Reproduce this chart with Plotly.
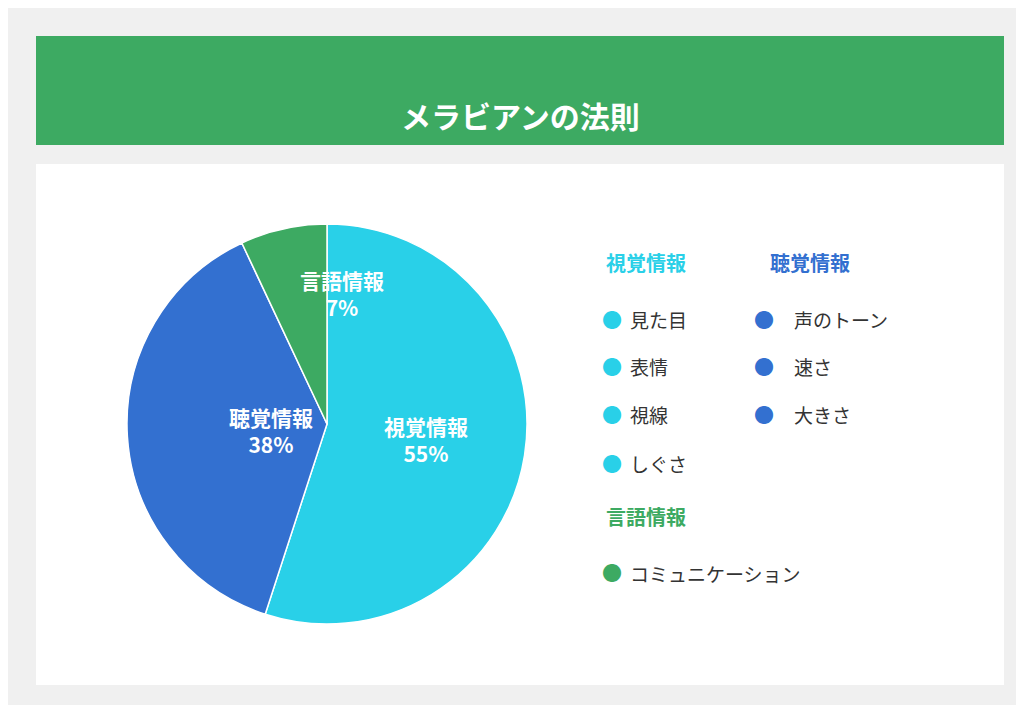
import math
import plotly.graph_objects as go

W, H = 1024, 705
FONT = "Noto Sans CJK JP"

title = "メラビアンの法則"
categories = ["視覚情報", "聴覚情報", "言語情報"]
values = [55, 38, 7]
colors = ["#29D0E8", "#3370D0", "#3DAA62"]
legend_items = {
    "視覚情報": ["見た目", "表情", "視線", "しぐさ"],
    "聴覚情報": ["声のトーン", "速さ", "大きさ"],
    "言語情報": ["コミュニケーション"],
}


def px(x):
    return x / W


def py(y):
    return 1 - y / H


cx, cy, R = 319, 416, 200

fig = go.Figure(go.Pie(
    labels=categories, values=values, sort=False, direction="clockwise",
    rotation=0, marker=dict(colors=colors, line=dict(color="white", width=1.5)),
    textinfo="none", hoverinfo="label+percent", showlegend=False,
    domain=dict(x=[px(cx - R), px(cx + R)], y=[py(cy + R), py(cy - R)]),
))

shapes = [
    dict(type="path", xref="paper", yref="paper", layer="below",
         path="M {},{} L {},{} L {},{} L {},{} Z".format(px(28), py(28), px(996), py(28), px(996), py(137), px(28), py(137)),
         fillcolor="#3DAA62", line=dict(width=0)),
    dict(type="rect", xref="paper", yref="paper", layer="below",
         x0=px(28), x1=px(996), y0=py(677), y1=py(156),
         fillcolor="white", line=dict(width=0)),
]

annotations = [dict(text="<b>" + title + "</b>", x=0.5, y=py(83), xref="paper", yref="paper",
                    showarrow=False, font=dict(family=FONT, size=30, color="white"))]

# slice labels at mid-angle of each slice
total = sum(values)
cum = 0
for cat, v in zip(categories, values):
    mid = (cum + v / 2) / total * 2 * math.pi
    cum += v
    r = 0.5 * R if v > 20 else 0.67 * R
    lx = cx + r * math.sin(mid)
    ly = cy - r * math.cos(mid)
    annotations.append(dict(
        text="<b>{}<br>{}%</b>".format(cat, v), x=px(lx), y=py(ly), xref="paper", yref="paper",
        showarrow=False, font=dict(family=FONT, size=21, color="white"), align="center"))

# custom legend
groups = [(categories[0], colors[0], 596, 255), (categories[1], colors[1], 760, 255),
          (categories[2], colors[2], 596, 525)]
for cat, col, gx, gy in groups:
    annotations.append(dict(text="<b>" + cat + "</b>", x=px(gx), y=py(gy), xref="paper", yref="paper",
                            xanchor="left", showarrow=False, font=dict(family=FONT, size=20, color=col)))
    for i, item in enumerate(legend_items[cat]):
        iy = gy + 56 + i * 48
        annotations.append(dict(text="●", x=px(gx + 8), y=py(iy), xref="paper", yref="paper",
                                showarrow=False, font=dict(family=FONT, size=20, color=col)))
        annotations.append(dict(text=item, x=px(gx + 24), y=py(iy), xref="paper", yref="paper",
                                xanchor="left", showarrow=False, font=dict(family=FONT, size=19, color="#333333")))

fig.update_layout(width=W, height=H, margin=dict(l=0, r=0, t=0, b=0),
                  paper_bgcolor="#F0F0F0", plot_bgcolor="#F0F0F0",
                  shapes=shapes, annotations=annotations, font=dict(family=FONT))
fig.write_html("out.html")
